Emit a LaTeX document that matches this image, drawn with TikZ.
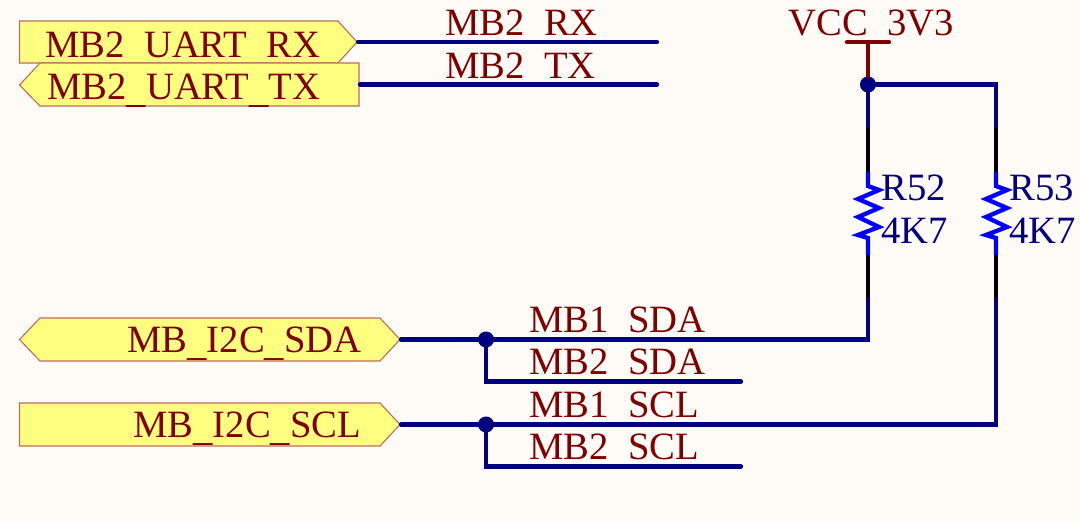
\documentclass[tikz,border=0pt]{standalone}
\usepackage{fontspec}
\setmainfont{Liberation Serif}
\definecolor{sheetbg}{RGB}{255,252,248}
\definecolor{portfill}{RGB}{255,255,128}
\definecolor{portline}{RGB}{190,110,90}
\definecolor{netred}{RGB}{128,0,0}
\definecolor{wirenavy}{RGB}{0,0,128}
\newcommand{\lowus}{\raisebox{-2.6pt}{\_}}
\tikzset{
	portbox/.style={draw=portline,fill=portfill,line width=0.8pt},
	netlabel/.style={anchor=base west,inner sep=0pt,text=netred,font=\fontsize{27.5}{30}\selectfont},
	reslabel/.style={anchor=base west,inner sep=0pt,text=wirenavy,font=\fontsize{27.5}{30}\selectfont},
	wire/.style={draw=wirenavy,line width=3.1pt,line cap=round,line join=miter},
	pinwire/.style={draw=black,line width=3.1pt},
	reswire/.style={draw=blue,line width=3.1pt,line join=miter},
	powerwire/.style={draw=netred,line width=3.1pt,line cap=round},
	junction/.style={circle,fill=wirenavy,inner sep=0pt,minimum size=11.4pt}
}
\begin{document}
\begin{tikzpicture}[x=0.025cm,y=-0.025cm]
		\fill[sheetbg] (0,0) rectangle (1080,522);
		\useasboundingbox (0,0) rectangle (1080,522);
		% ports
		\draw[portbox] (19.5,21) -- (338,21) -- (357,42) -- (338,63) -- (19.5,63) -- cycle;
		\node[netlabel] (lblrx) at (45,57) {MB2\lowus UART\lowus RX};
		\draw[portbox] (19.5,85) -- (40,63) -- (359,63) -- (359,106) -- (40,106) -- cycle;
		\node[netlabel] (lbltx) at (47,99) {MB2\lowus UART\lowus TX};
		\draw[portbox] (19.5,339.5) -- (40,318) -- (380,318) -- (400,339.5) -- (380,361) -- (40,361) -- cycle;
		\node[netlabel] (lblsda) at (127,352) {MB\lowus I2C\lowus SDA};
		\draw[portbox] (19.5,403) -- (380,403) -- (400,424.5) -- (380,446) -- (19.5,446) -- cycle;
		\node[netlabel] (lblscl) at (133,437) {MB\lowus I2C\lowus SCL};
		% net names
		\node[netlabel] (netrx) at (445,35) {MB2\lowus RX};
		\node[netlabel] (nettx) at (445,78) {MB2\lowus TX};
		\node[netlabel] (netsdaa) at (529,332) {MB1\lowus SDA};
		\node[netlabel] (netsdab) at (529,374) {MB2\lowus SDA};
		\node[netlabel] (netscla) at (529,417) {MB1\lowus SCL};
		\node[netlabel] (netsclb) at (529,459) {MB2\lowus SCL};
		\node[netlabel] (vcclbl) at (788,35) {VCC\lowus 3V3};
		\node[reslabel] (rnamea) at (881,200) {R52};
		\node[reslabel] (rvala) at (881,243) {4K7};
		\node[reslabel] (rnameb) at (1009,200) {R53};
		\node[reslabel] (rvalb) at (1009,243) {4K7};
		% wire ends
		\coordinate (rxport) at (358,42);
		\coordinate (rxend) at (657,42);
		\coordinate (txport) at (360,84.5);
		\coordinate (txend) at (657,84.5);
		\coordinate (sdaport) at (401,339.5);
		\coordinate (sclport) at (401,424.5);
		\coordinate (sdaend) at (741,381.5);
		\coordinate (sclend) at (741,466.5);
		\coordinate (vcctop) at (868,42);
		\coordinate (vccl) at (847,42);
		\coordinate (vccr) at (889,42);
		\coordinate (raturn) at (868,339.5);
		\coordinate (rbturn) at (996,424.5);
		\coordinate (rbtop) at (996,84.5);
		\coordinate (ratopa) at (868,128);
		\coordinate (ratopb) at (868,172);
		\coordinate (rabota) at (868,255);
		\coordinate (rabotb) at (868,297);
		\coordinate (rbtopa) at (996,128);
		\coordinate (rbtopb) at (996,172);
		\coordinate (rbbota) at (996,255);
		\coordinate (rbbotb) at (996,297);
		\node[junction] (vccdot) at (868,84.5) {};
		\node[junction] (sdadot) at (486,339.5) {};
		\node[junction] (scldot) at (486,424.5) {};
		% wires
		\draw[powerwire] (vccl) -- (vccr);
		\draw[powerwire] (vcctop) -- (vccdot);
		\draw[wire] (rxport) -- (rxend);
		\draw[wire] (txport) -- (txend);
		\draw[wire] (vccdot) -- (rbtop) -- (rbtopa);
		\draw[wire] (vccdot) -- (ratopa);
		\draw[wire] (sdaport) -- (raturn) -- (rabotb);
		\draw[wire] (sclport) -- (rbturn) -- (rbbotb);
		\draw[wire] (sdadot) |- (sdaend);
		\draw[wire] (scldot) |- (sclend);
		% resistors
		\draw[pinwire] (ratopa) -- (ratopb);
		\draw[pinwire] (rabota) -- (rabotb);
		\draw[pinwire] (rbtopa) -- (rbtopb);
		\draw[pinwire] (rbbota) -- (rbbotb);
		\draw[reswire] (ratopb) -- ++(0,14) -- ++(11,4) -- ++(-21,9) -- ++(21,9) -- ++(-21,9) -- ++(21,10) -- ++(-21,8) -- ++(10,3) -- (rabota);
		\draw[reswire] (rbtopb) -- ++(0,14) -- ++(11,4) -- ++(-21,9) -- ++(21,9) -- ++(-21,9) -- ++(21,10) -- ++(-21,8) -- ++(10,3) -- (rbbota);
\end{tikzpicture}
\end{document}
